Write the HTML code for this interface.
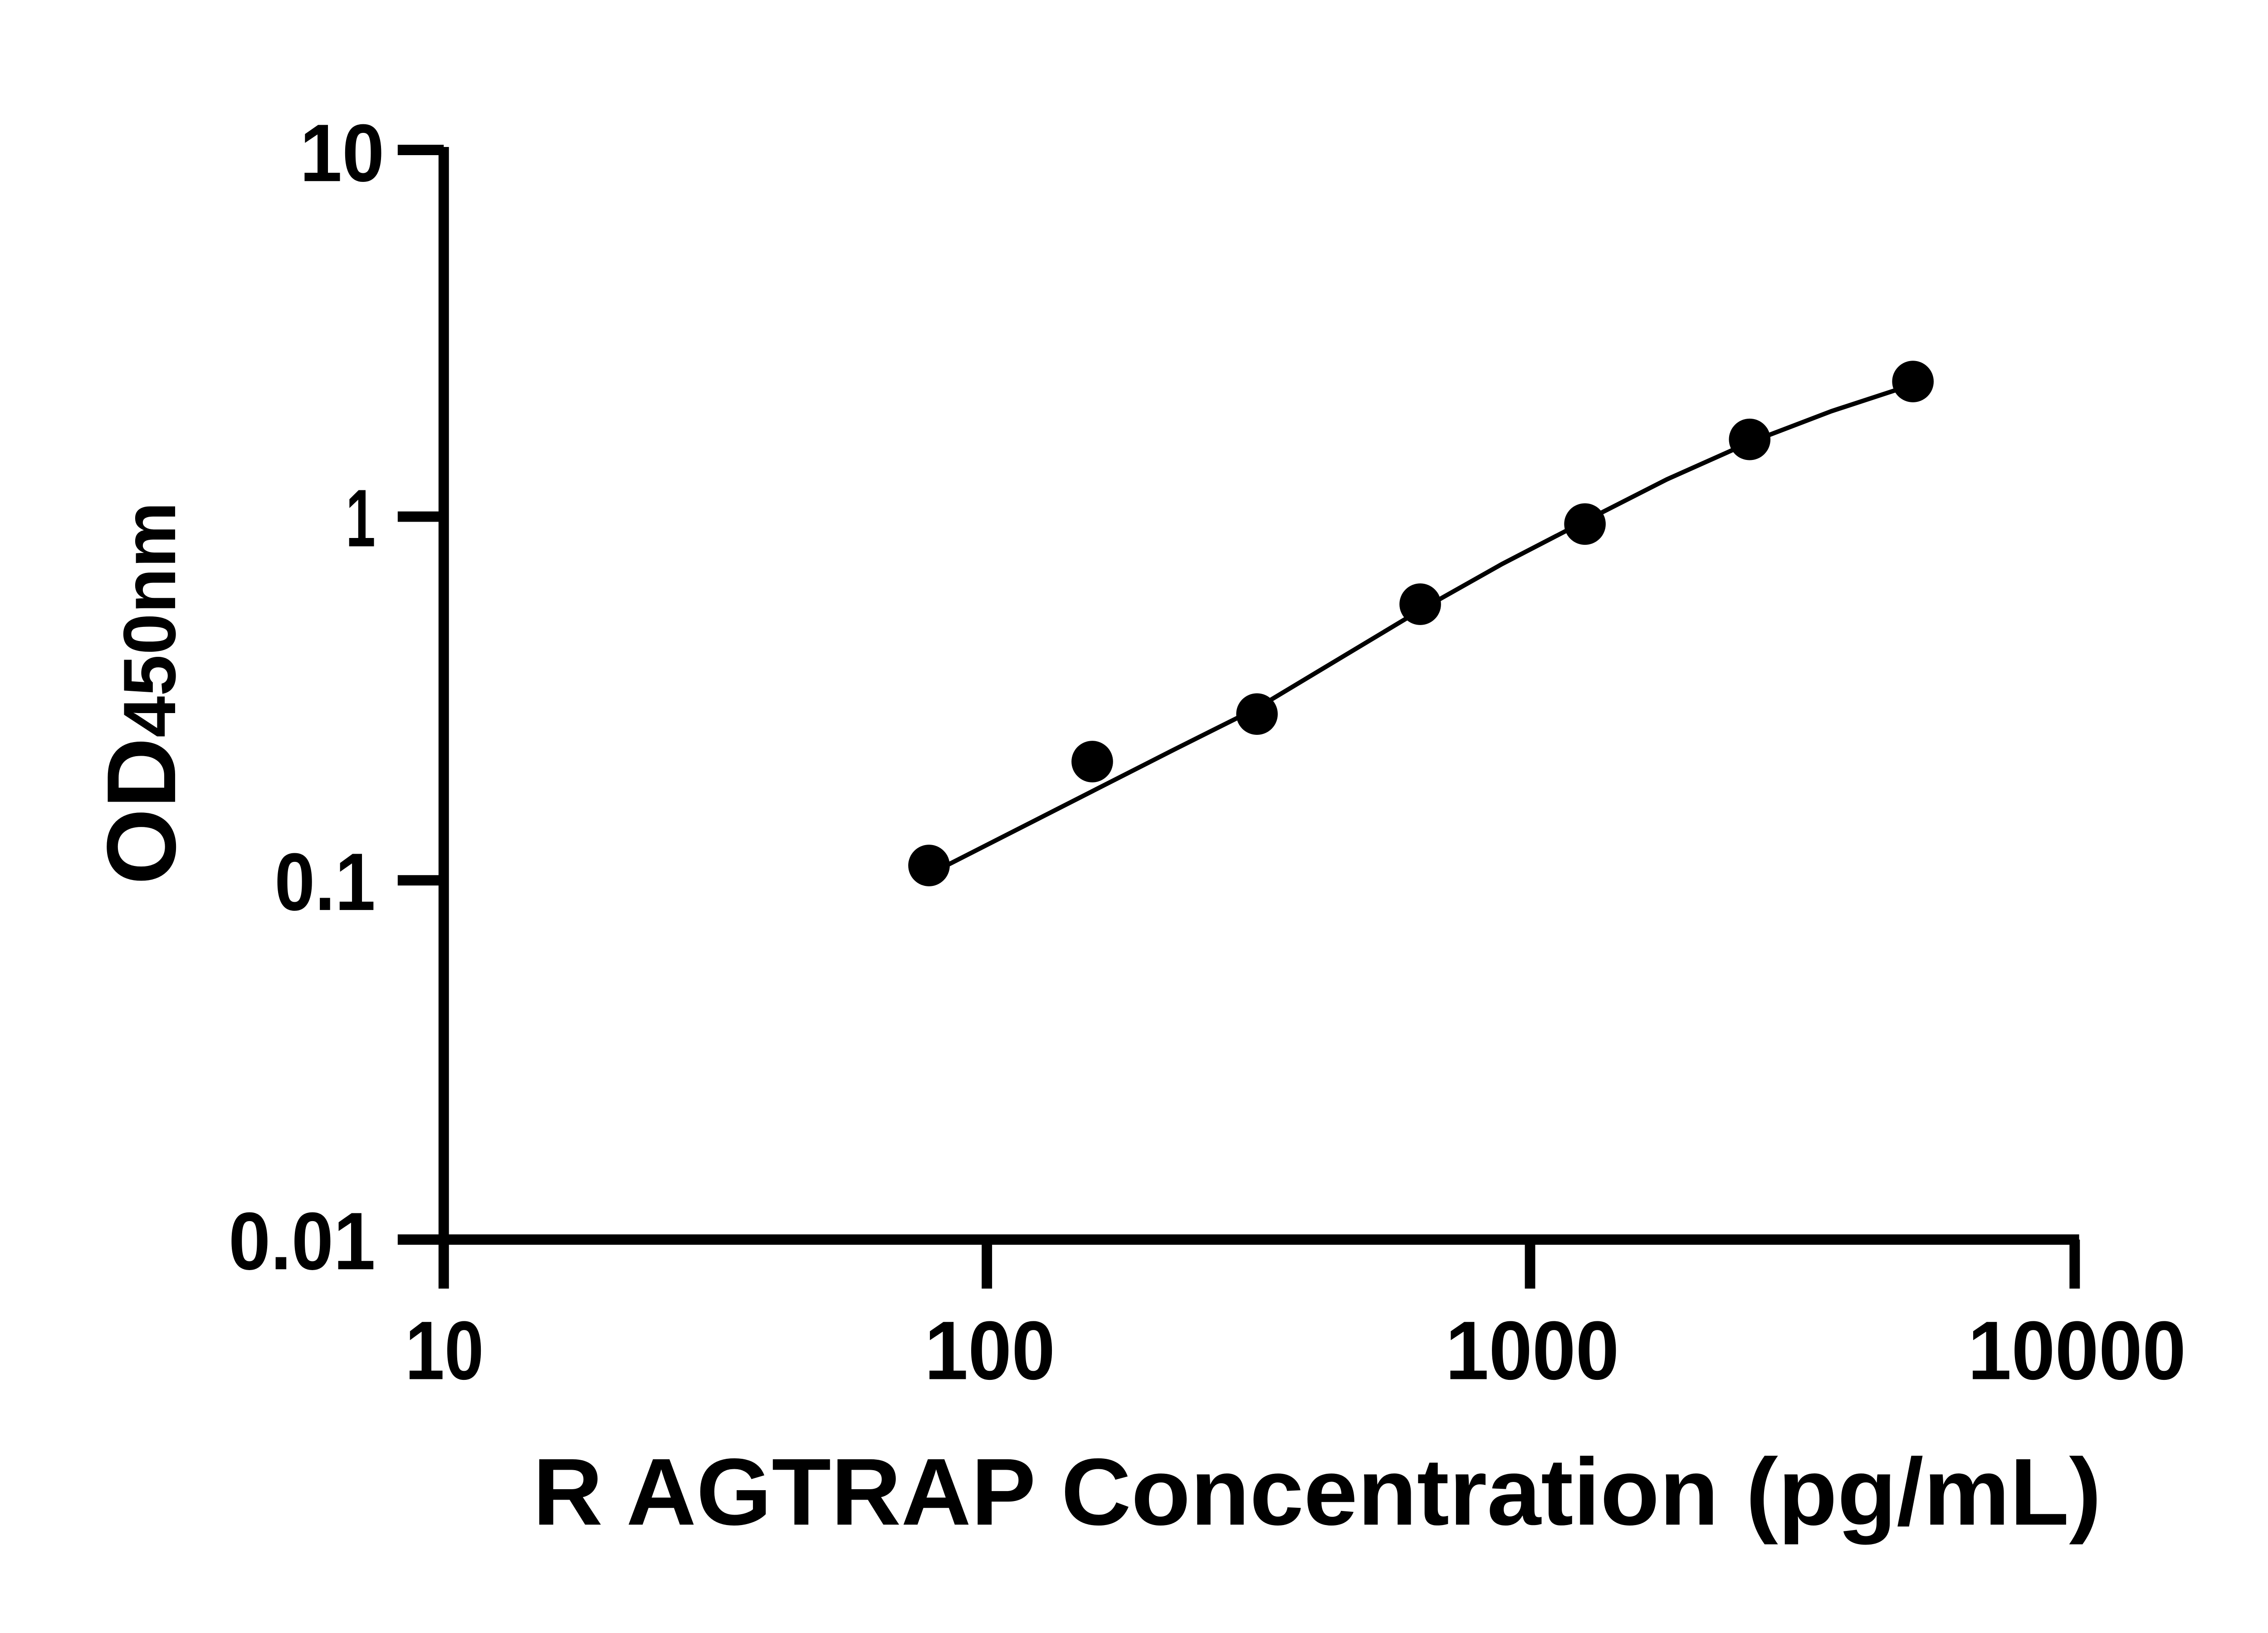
<!DOCTYPE html>
<html><head><meta charset="utf-8">
<style>html,body{margin:0;padding:0;background:#fff;}svg{display:block;}</style>
</head><body>
<svg width="5130" height="3600" viewBox="0 0 1568 1100" preserveAspectRatio="none" xmlns="http://www.w3.org/2000/svg" font-family="Liberation Sans, DejaVu Sans, sans-serif" font-weight="bold">
<g stroke="#000" stroke-width="7" fill="none" stroke-linecap="butt">
<line x1="299" y1="99" x2="299" y2="868"/>
<line x1="268" y1="835" x2="1401" y2="835"/>
<line x1="268" y1="101" x2="299" y2="101"/>
<line x1="268" y1="348" x2="299" y2="348"/>
<line x1="268" y1="593" x2="299" y2="593"/>
<line x1="665" y1="835" x2="665" y2="868"/>
<line x1="1031" y1="835" x2="1031" y2="868"/>
<line x1="1398" y1="835" x2="1398" y2="868"/>
</g>
<polyline points="626,589 681,561 736,533 791,505 847,477 902,444 957,411 1012,380 1068,351 1123,323 1179,298 1234,277 1289,259" stroke="#000" stroke-width="3" fill="none" stroke-linejoin="round"/>
<g fill="#000">
<circle cx="626" cy="583" r="14"/>
<circle cx="736" cy="513" r="14"/>
<circle cx="847" cy="481" r="14"/>
<circle cx="957" cy="407" r="14"/>
<circle cx="1068" cy="353" r="14"/>
<circle cx="1179" cy="296" r="14"/>
<circle cx="1289" cy="257" r="14"/>
</g>
<g font-size="55" fill="#000">
<text x="202" y="122" textLength="57" lengthAdjust="spacingAndGlyphs">10</text>
<text x="233" y="368" textLength="20" lengthAdjust="spacingAndGlyphs">1</text>
<text x="185" y="613" textLength="68" lengthAdjust="spacingAndGlyphs">0.1</text>
<text x="154" y="855" textLength="99" lengthAdjust="spacingAndGlyphs">0.01</text>
</g>
<g font-size="56" fill="#000">
<text x="273" y="929" textLength="53" lengthAdjust="spacingAndGlyphs">10</text>
<text x="623" y="929" textLength="88" lengthAdjust="spacingAndGlyphs">100</text>
<text x="974" y="929" textLength="117" lengthAdjust="spacingAndGlyphs">1000</text>
<text x="1326" y="929" textLength="147" lengthAdjust="spacingAndGlyphs">10000</text>
</g>
<text x="359" y="1027" font-size="64" fill="#000" textLength="1057" lengthAdjust="spacingAndGlyphs">R AGTRAP Concentration (pg/mL)</text>
<text transform="translate(118,596) rotate(-90)" fill="#000" textLength="258" lengthAdjust="spacingAndGlyphs"><tspan font-size="66">OD</tspan><tspan font-size="50">450nm</tspan></text>
</svg>
</body></html>
